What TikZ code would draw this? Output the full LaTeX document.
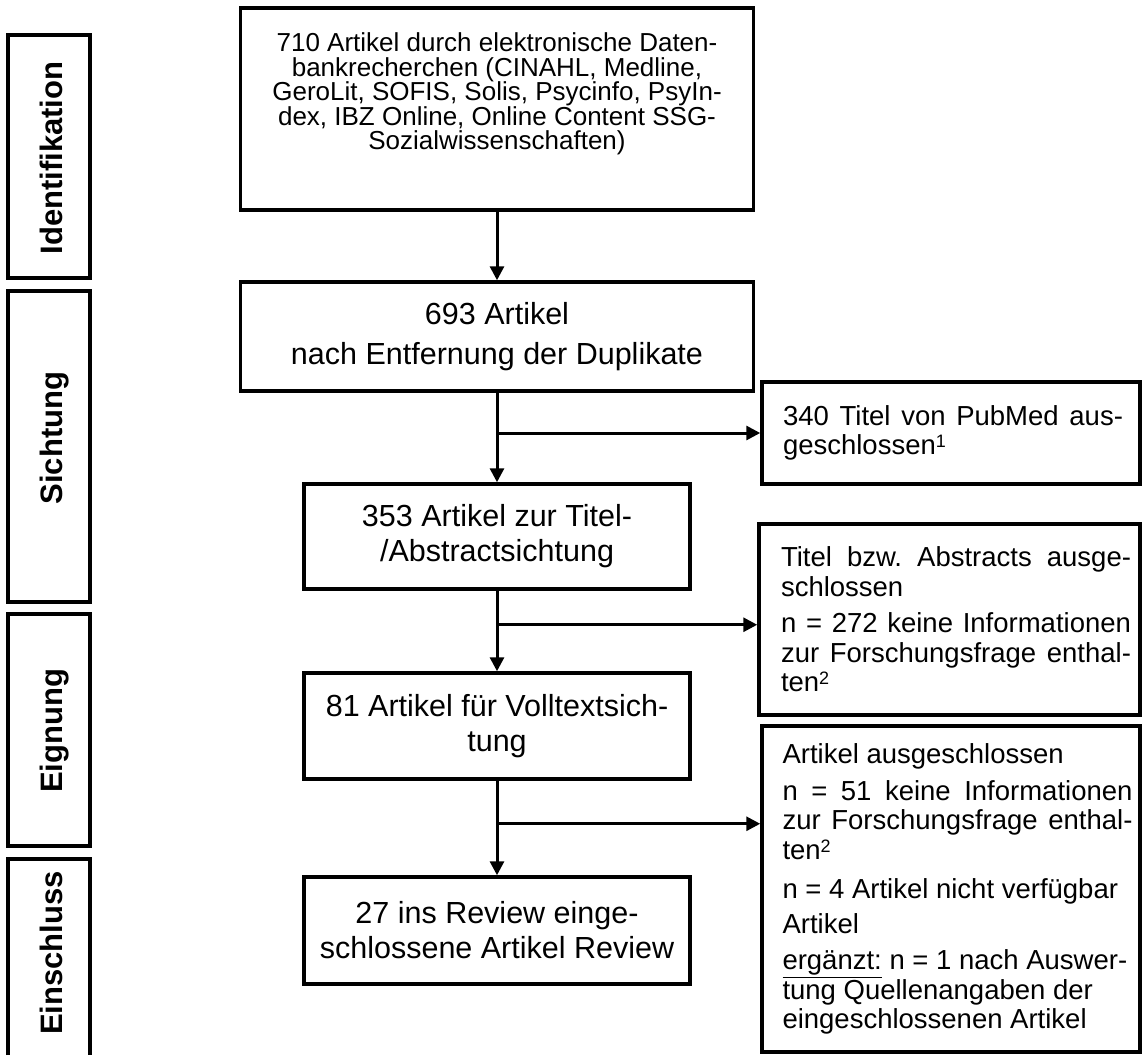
\documentclass[tikz,border=0pt]{standalone}
\usepackage{fontspec}
\setmainfont{Liberation Sans}
\usetikzlibrary{arrows.meta}
\newcommand{\fnmark}[1]{\raisebox{7pt}{\fontsize{18pt}{18pt}\selectfont #1}}
\begin{document}
\frenchspacing
\begin{tikzpicture}[x=1pt,y=-1pt,
  box/.style={draw, line width=3.5pt, inner sep=0pt, align=center},
  mainfont/.style={font=\fontsize{30.5pt}{35pt}\selectfont},
  sidebox/.style={draw, line width=3.5pt, inner sep=0pt, font=\fontsize{27.5pt}{29.5pt}\selectfont},
  lab/.style={rotate=90, anchor=base, inner sep=0pt, font=\bfseries\fontsize{31pt}{33pt}\selectfont},
  labbox/.style={line width=4pt},
  arr/.style={line width=3pt, -{Triangle[length=14pt,width=14pt]}}]
\useasboundingbox (0,0) rectangle (1143,1055);

% phase labels
\draw[labbox] (8,35) rectangle (90,278);
\draw[labbox] (8,291) rectangle (90,602);
\draw[labbox] (8,614) rectangle (90,846);
\draw[labbox] (8,1055) -- (8,859) -- (90,859) -- (90,1055);
\node[lab] (lI) at (62,158) {Identifikation};
\node[lab] (lS) at (62,438) {Sichtung};
\node[lab] (lE) at (62,731) {Eignung};
\node[lab] (lN) at (62,953) {Einschluss};

% main flow
\node[draw, line width=3.5pt, inner sep=0pt, minimum width=513pt, minimum height=202pt] (b1) at (497,109)
  {\raisebox{15pt}[\height][\depth]{\parbox{505pt}{\centering\fontsize{26pt}{24.5pt}\selectfont
   710 Artikel durch elektronische Daten-\\
   bankrecherchen (CINAHL, Medline,\\
   GeroLit, SOFIS, Solis, Psycinfo, PsyIn-\\
   dex, IBZ Online, Online Content SSG-\\
   Sozialwissenschaften)}}};
\node[box, mainfont, minimum width=513pt, minimum height=109pt] (b2) at (497,336.5)
  {693 Artikel\\[5pt]nach Entfernung der Duplikate};
\node[box, mainfont, minimum width=386pt, minimum height=105pt] (b3) at (497,536.5)
  {353 Artikel zur Titel-\\/Abstractsichtung};
\node[box, mainfont, minimum width=386pt, minimum height=106pt] (b4) at (497,726)
  {81 Artikel für Volltextsich-\\tung};
\node[box, mainfont, minimum width=386pt, minimum height=107pt] (b5) at (497,930.5)
  {27 ins Review einge-\\schlossene Artikel Review};

% exclusion boxes
\node[sidebox, minimum width=378pt, minimum height=102pt] (r1) at (951,433)
  {\hspace*{4pt}\parbox{340pt}{\makebox[\linewidth][s]{340 Titel von PubMed aus-}\\
   geschlossen\fnmark{1}}};
\node[sidebox, minimum width=381pt, minimum height=191pt] (r2) at (949.5,619.5)
  {\hspace*{13pt}\parbox{350pt}{\makebox[\linewidth][s]{Titel bzw. Abstracts ausge-}\\
   schlossen\\[7pt]
   \makebox[\linewidth][s]{n = 272 keine Informationen}\\
   \makebox[\linewidth][s]{zur Forschungsfrage enthal-}\\
   ten\fnmark{2}}};
\node[sidebox, minimum width=378pt, minimum height=326pt] (r3) at (951,889)
  {\hspace*{13pt}\parbox{350pt}{Artikel ausgeschlossen\\[7pt]
   \makebox[\linewidth][s]{n = 51 keine Informationen}\\
   \makebox[\linewidth][s]{zur Forschungsfrage enthal-}\\
   ten\fnmark{2}\\[10pt]
   n = 4 Artikel nicht verfügbar\\[5pt]
   Artikel\\[7pt]
   \underline{ergänzt:} n = 1 nach Auswer-\\
   tung Quellenangaben der\\
   eingeschlossenen Artikel}};

% connectors
\draw[arr] (b1.south) -- (b2.north);
\draw[arr] (b2.south) -- (b3.north);
\draw[arr] (b3.south) -- (b4.north);
\draw[arr] (b4.south) -- (b5.north);
\coordinate (j1) at (b2.south |- r1.west);
\path (b3.south) ++(0,34) coordinate (j2);
\path (b4.south) ++(0,43) coordinate (j3);
\draw[arr] (j1) -- (j1 -| r1.west);
\draw[arr] (j2) -- (j2 -| r2.west);
\draw[arr] (j3) -- (j3 -| r3.west);
\end{tikzpicture}
\end{document}
